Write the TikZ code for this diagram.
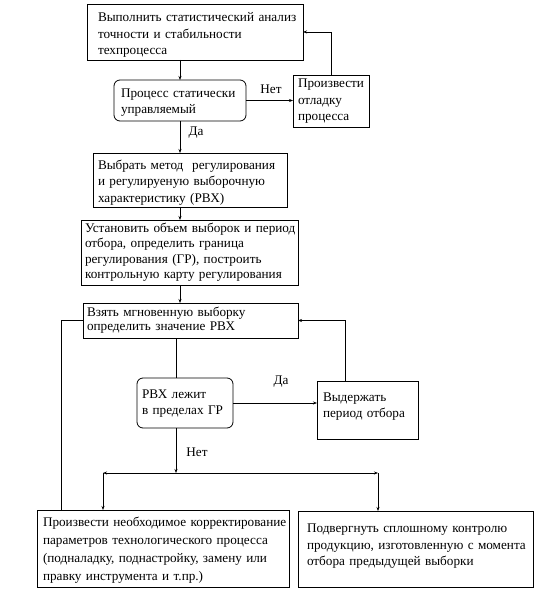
\documentclass[tikz,border=0pt]{standalone}
\usepackage{fontspec}
\setmainfont{Liberation Serif}
\newfontfamily\rusf{Liberation Serif}
\usetikzlibrary{arrows.meta,calc}
\newcommand{\dn}[1]{\rule{0pt}{#1pt}}
\newcommand{\tl}[1]{\noindent\begin{tabular}{@{}l@{}}#1\end{tabular}}
\begin{document}
\begin{tikzpicture}[x=1pt,y=-1pt,
  every node/.style={font=\rusf\fontsize{13.2}{16.5}\selectfont},
  box/.style={draw,line width=0.8pt,anchor=north west,align=left,inner ysep=0pt,outer sep=0pt},
  rbox/.style={box,rounded corners=6pt},
  lbl/.style={inner sep=0pt},
  arr/.style={-{Stealth[length=4pt,width=3pt]}},
  ln/.style={line width=0.6pt}]
\useasboundingbox (0,0) rectangle (553,610);
\node[box,inner xsep=11pt,text width=194pt,minimum height=53pt] (b1) at (87,4)
  {\tl{\dn{18}Выполнить статистический анализ\\точности и стабильности\\техпроцесса}};
\node[rbox,inner xsep=7pt,text width=118pt,minimum height=41pt] (d1) at (114,80)
  {\tl{\dn{15}Процесс статически\\управляемый}};
\node[box,inner xsep=5pt,text width=66pt,minimum height=52pt] (b2) at (293,75)
  {\tl{Произвести\\отладку\\процесса}};
\node[box,inner xsep=5pt,text width=184pt,minimum height=53pt] (b3) at (93,153)
  {\tl{\dn{16}Выбрать метод\ \ регулирования\\и регулируеную выборочную\\характеристику (РВХ)}};
\node[box,inner xsep=4pt,text width=209pt,minimum height=65pt,font=\rusf\fontsize{13.2}{15.5}\selectfont] (b4) at (81,220)
  {\tl{Установить объем выборок и период\\отбора, определить граница\\регулирования (ГР), построить\\контрольную карту регулирования}};
\node[box,inner xsep=4pt,text width=207pt,minimum height=35pt,font=\rusf\fontsize{13.2}{14.5}\selectfont] (b5) at (83,303)
  {\tl{Взять мгновенную выборку\\определить значение РВХ}};
\node[rbox,inner xsep=5pt,text width=86pt,minimum height=50pt] (d2) at (137,378)
  {\tl{РВХ лежит\\в пределах ГР}};
\node[box,inner xsep=6pt,text width=89pt,minimum height=58pt] (b6) at (317,381)
  {\tl{Выдержать\\период отбора\\[8pt]}};
\node[box,inner xsep=6pt,text width=240pt,minimum height=77pt,font=\rusf\fontsize{13.2}{18}\selectfont] (b7) at (37,510)
  {\tl{\dn{16}Произвести необходимое корректирование\\параметров технологического процесса\\(подналадку, поднастройку, замену или\\правку инструмента и т.пр.)}};
\node[box,inner xsep=9pt,text width=217pt,minimum height=76pt] (b8) at (298,511)
  {\tl{Подвергнуть сплошному контролю\\продукцию, изготовленную с момента\\отбора предыдущей выборки\\[6pt]}};
% labels
\node[lbl] (n1) at (271,89) {Нет};
\node[lbl] (y1) at (196,133) {Да};
\node[lbl] (y2) at (281,382) {Да};
\node[lbl] (n2) at (197,452) {Нет};
% coordinates
\coordinate (c1) at (180,0);
\coordinate (c2) at (176,0);
\coordinate (jl) at (103,473);
\coordinate (jr) at (378,473);
\coordinate (j) at (176,473);
\coordinate (up1) at ($(b6.north west)!0.285!(b6.north east)$);
\coordinate (lp) at ($(b7.north west)!0.095!(b7.north east)$);
% connectors
\draw[ln,arr] (b1.south -| c1) -- (d1.north -| c1);
\draw[ln,arr] (d1.east) -- (d1.east -| b2.west);
\draw[ln,arr] (b2.north) |- (b1.east);
\draw[ln,arr] (d1.south -| c1) -- (b3.north -| c1);
\draw[ln,arr] (b3.south -| c1) -- (b4.north -| c1);
\draw[ln,arr] (b4.south -| c1) -- (b5.north -| c1);
\draw[ln] (b5.south -| c2) -- (d2.north -| c2);
\draw[ln,arr] (d2.east) -- (d2.east -| b6.west);
\draw[ln,arr] (up1) |- (b5.east);
\draw[ln] (lp) |- (b5.west);
\draw[ln,arr] (d2.south -| c2) -- (j);
\draw[ln,arr] (j) -- (jl);
\draw[ln,arr] (j) -- (jr);
\draw[ln,arr] (jl) -- (b7.north -| jl);
\draw[ln,arr] (jr) -- (b8.north -| jr);
\end{tikzpicture}
\end{document}
